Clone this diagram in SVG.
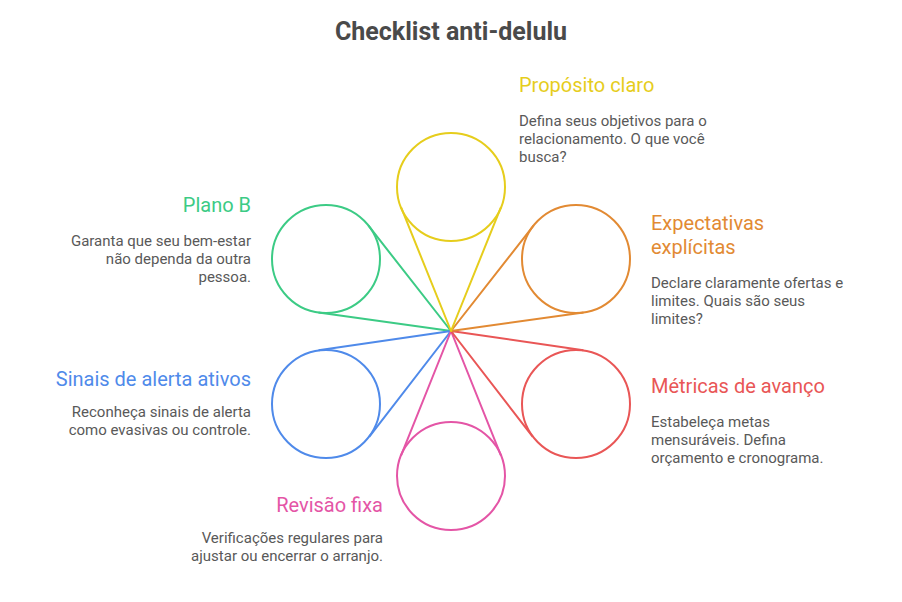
<svg xmlns="http://www.w3.org/2000/svg" width="902" height="602" viewBox="0 0 902 602">
<style>
text{font-family:Roboto,"Liberation Sans",sans-serif}
.t{font-size:25px;font-weight:700;fill:#4a4a4a}
.h{font-size:20px}
.b{font-size:15px;fill:#595959}
.e{text-anchor:end}
.n{fill:none;stroke-width:2}
.c{fill:none;stroke-width:2;stroke-linejoin:round}
</style>
<rect width="902" height="602" fill="#fff"/>
<text class="t" x="451" y="40" text-anchor="middle">Checklist anti-delulu</text>
<g id="connectors">
<path class="c" stroke="#3ccb85" d="M318.5 312.5L451 331L368.5 225.7"/>
<path class="c" stroke="#4f8aea" d="M369.2 436.9L451 331L318.6 350.3"/>
<path class="c" stroke="#e455a6" d="M501.1 455.9L451 331L400.9 455.9"/>
<path class="c" stroke="#e95656" d="M583.4 350.3L451 331L532.8 436.9"/>
<path class="c" stroke="#e28a33" d="M533.5 225.7L451 331L583.5 312.5"/>
<path class="c" stroke="#e6cd1c" d="M401 207.2L451 331L501 207.2"/>
</g>
<g id="proposito"><circle class="n" cx="451" cy="187" r="54" stroke="#e6cd1c"/>
<text class="h" x="519" y="92" fill="#e6cd1c">Propósito claro</text>
<text class="b" x="519" y="126">Defina seus objetivos para o</text><text class="b" x="519" y="144">relacionamento. O que você</text><text class="b" x="519" y="162">busca?</text></g>
<g id="expectativas"><circle class="n" cx="576" cy="259" r="54" stroke="#e28a33"/>
<text class="h" x="651" y="230" fill="#e28a33">Expectativas</text><text class="h" x="651" y="254" fill="#e28a33">explícitas</text>
<text class="b" x="651" y="288">Declare claramente ofertas e</text><text class="b" x="651" y="306">limites. Quais são seus</text><text class="b" x="651" y="324">limites?</text></g>
<g id="metricas"><circle class="n" cx="576" cy="404" r="54" stroke="#e95656"/>
<text class="h" x="651" y="393" fill="#e95656">Métricas de avanço</text>
<text class="b" x="651" y="427">Estabeleça metas</text><text class="b" x="651" y="445">mensuráveis. Defina</text><text class="b" x="651" y="463">orçamento e cronograma.</text></g>
<g id="revisao"><circle class="n" cx="451" cy="476" r="54" stroke="#e455a6"/>
<text class="h e" x="383" y="512" fill="#e455a6">Revisão fixa</text>
<text class="b e" x="383" y="543">Verificações regulares para</text><text class="b e" x="383" y="561">ajustar ou encerrar o arranjo.</text></g>
<g id="sinais"><circle class="n" cx="326" cy="404" r="54" stroke="#4f8aea"/>
<text class="h e" x="251" y="386" fill="#4f8aea">Sinais de alerta ativos</text>
<text class="b e" x="251" y="417">Reconheça sinais de alerta</text><text class="b e" x="251" y="435">como evasivas ou controle.</text></g>
<g id="planob"><circle class="n" cx="326" cy="259" r="54" stroke="#3ccb85"/>
<text class="h e" x="251" y="212" fill="#3ccb85">Plano B</text>
<text class="b e" x="251" y="246">Garanta que seu bem-estar</text><text class="b e" x="251" y="264">não dependa da outra</text><text class="b e" x="251" y="282">pessoa.</text></g>
</svg>
